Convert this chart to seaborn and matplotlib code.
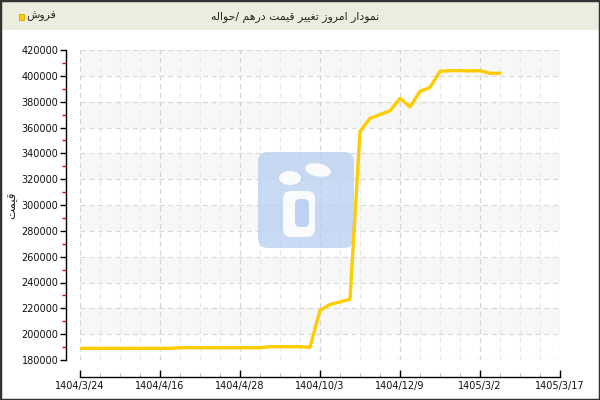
import numpy as np
import pandas as pd
import matplotlib
matplotlib.use('Agg')
import matplotlib.pyplot as plt
import seaborn as sns
from matplotlib.patches import Rectangle, FancyBboxPatch, Ellipse
from matplotlib.transforms import Affine2D

# daily sell price (one point per step on the category axis)
prices = [189000, 189000, 189000, 189000, 189000, 189000, 189000, 189000, 189000, 189000,
          189500, 189500, 189500, 189500, 189500, 189500, 189500, 189500, 189500,
          190300, 190300, 190300, 190300, 189800,
          218500, 223000, 225000, 227000,
          357000, 367000, 370000, 373000, 382500, 376000, 388000, 391000,
          403500, 404000, 404000, 403800, 404000, 402000, 402000]
tick_labels = ['1404/3/24', '1404/4/16', '1404/4/28', '1404/10/3', '1404/12/9', '1405/3/2', '1405/3/17']
title_text = 'نمودار امروز تغییر قیمت درهم /حواله'
legend_text = 'فروش'
ylabel_text = 'قیمت'

# minimal arabic shaping: (isolated, final, initial, medial)
forms = {
    'ا': (0xFE8D, 0xFE8E, None, None), 'د': (0xFEA9, 0xFEAA, None, None),
    'ر': (0xFEAD, 0xFEAE, None, None), 'ز': (0xFEAF, 0xFEB0, None, None),
    'و': (0xFEED, 0xFEEE, None, None),
    'ن': (0xFEE5, 0xFEE6, 0xFEE7, 0xFEE8), 'م': (0xFEE1, 0xFEE2, 0xFEE3, 0xFEE4),
    'ت': (0xFE95, 0xFE96, 0xFE97, 0xFE98), 'غ': (0xFECD, 0xFECE, 0xFECF, 0xFED0),
    'ی': (0xFBFC, 0xFBFD, 0xFBFE, 0xFBFF), 'ق': (0xFED5, 0xFED6, 0xFED7, 0xFED8),
    'ه': (0xFEE9, 0xFEEA, 0xFEEB, 0xFEEC), 'ح': (0xFEA1, 0xFEA2, 0xFEA3, 0xFEA4),
    'ل': (0xFEDD, 0xFEDE, 0xFEDF, 0xFEE0), 'ف': (0xFED1, 0xFED2, 0xFED3, 0xFED4),
    'ش': (0xFEB5, 0xFEB6, 0xFEB7, 0xFEB8),
}


def shape(s):
    out = []
    for i, c in enumerate(s):
        if c not in forms:
            out.append(c)
            continue
        f = forms[c]
        prev = s[i - 1] if i > 0 else ''
        nxt = s[i + 1] if i < len(s) - 1 else ''
        jp = prev in forms and forms[prev][2] is not None
        jn = nxt in forms and f[2] is not None
        if jp and jn:
            code = f[3]
        elif jp:
            code = f[1]
        elif jn:
            code = f[2]
        else:
            code = f[0]
        out.append(chr(code))
    return ''.join(out)[::-1]


sns.set_theme(style='white')
plt.rcParams['font.family'] = ['DejaVu Sans']

df = pd.DataFrame({'idx': np.arange(len(prices)), 'price': prices})

fig = plt.figure(figsize=(6, 4), dpi=100)
ax = fig.add_axes([80 / 600, 40 / 400, 480 / 600, 310 / 400])
px = Affine2D().scale(1, -1).translate(0, 400)

# header strip
fig.patches.append(Rectangle((0, 370 / 400), 1, 30 / 400, transform=fig.transFigure,
                             facecolor='#EDEDDF', edgecolor='none', zorder=0))
fig.patches.append(Rectangle((0, 0), 1, 1, transform=fig.transFigure, fill=False,
                             edgecolor='#333333', lw=2.5, zorder=5))
fig.text(295 / 600, 1 - 17 / 400, shape(title_text), ha='center', va='center', fontsize=7.8, color='#222222')
fig.patches.append(Rectangle((19, 14), 5, 6, transform=px, facecolor='#FFCC00',
                             edgecolor='#D9A800', lw=0.6, zorder=3))
fig.text(26 / 600, 1 - 16 / 400, shape(legend_text), ha='left', va='center', fontsize=7.8, color='#222222')

# plot area
ax.set_xlim(0, 48)
ax.set_ylim(180000, 420000)
yt = np.arange(180000, 420001, 20000)
for lo in yt[:-1]:
    if (lo // 20000) % 2 == 0:
        ax.axhspan(lo, lo + 20000, color='#F7F7F7', zorder=0, lw=0)

ax.set_xticks(np.arange(0, 49, 8))
ax.set_xticklabels(tick_labels)
ax.set_xticks(np.arange(0, 49, 2), minor=True)
ax.set_yticks(yt)
ax.set_yticks(np.arange(190000, 420000, 20000), minor=True)
ax.yaxis.set_major_formatter(matplotlib.ticker.FuncFormatter(lambda v, p: '%d' % v))

ax.xaxis.grid(True, which='major', color='#D4D4D4', ls=(0, (4, 3)), lw=0.9, zorder=1)
ax.xaxis.grid(True, which='minor', color='#E8E8E8', ls=(0, (4, 3)), lw=0.9, zorder=1)
ax.yaxis.grid(True, which='major', color='#DADADA', ls=(0, (4, 3)), lw=0.9, zorder=1)
ax.set_axisbelow(True)

# watermark logo
ax.add_patch(FancyBboxPatch((260, 154), 92, 92, boxstyle='round,pad=2,rounding_size=10',
                            transform=px, facecolor='#B7CEF2', edgecolor='none', alpha=0.75, zorder=2))
ax.add_patch(Ellipse((290, 178), 22, 14, transform=px, facecolor='white', edgecolor='none', alpha=0.9, zorder=2))
ax.add_patch(Ellipse((318, 170), 26, 13, angle=10, transform=px, facecolor='white', edgecolor='none', alpha=0.9, zorder=2))
ax.add_patch(FancyBboxPatch((284, 192), 30, 44, boxstyle='round,pad=1,rounding_size=8',
                            transform=px, facecolor='white', edgecolor='none', alpha=0.9, zorder=2))
ax.add_patch(FancyBboxPatch((296, 200), 12, 26, boxstyle='round,pad=1,rounding_size=5',
                            transform=px, facecolor='#B7CEF2', edgecolor='none', alpha=0.9, zorder=2))

sns.lineplot(data=df, x='idx', y='price', ax=ax, color='#FFCC00', linewidth=2.4, zorder=4)

for s in ['top', 'right']:
    ax.spines[s].set_visible(False)
ax.spines['left'].set_position(('outward', 10))
ax.spines['bottom'].set_position(('outward', 12))
for s in ['left', 'bottom']:
    ax.spines[s].set_color('black')
    ax.spines[s].set_linewidth(1)

ax.tick_params(axis='y', which='major', direction='out', length=4, width=1, color='black',
               labelsize=7, labelcolor='#111111', pad=1.5, left=True)
ax.tick_params(axis='y', which='minor', direction='out', length=3, width=1, color='red', left=True)
ax.tick_params(axis='x', which='major', direction='in', length=5, width=1, color='black',
               labelsize=7, labelcolor='#111111', pad=3, bottom=True)
ax.tick_params(axis='x', which='minor', direction='in', length=3, width=0.8, color='#BBBBBB', bottom=True)

ax.set_xlabel('')
ax.set_ylabel(shape(ylabel_text), fontsize=8.5, color='#222222')
ax.yaxis.set_label_coords(-0.126, 0.5)

fig.savefig('out.png', dpi=100)
